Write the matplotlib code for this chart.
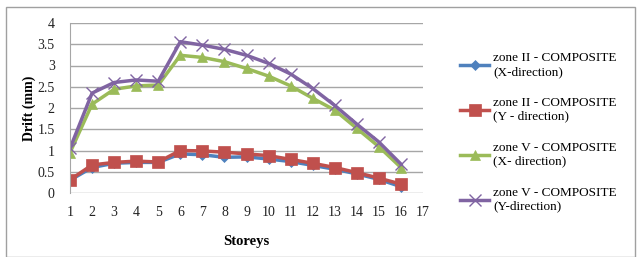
import matplotlib
matplotlib.use("Agg")
import matplotlib.pyplot as plt
from matplotlib.patches import Rectangle

storeys = list(range(1, 17))
zone2_x = [0.30, 0.60, 0.70, 0.72, 0.72, 0.92, 0.90, 0.84, 0.85, 0.80, 0.74, 0.65, 0.56, 0.45, 0.32, 0.15]
zone2_y = [0.31, 0.66, 0.72, 0.75, 0.73, 1.00, 0.99, 0.96, 0.92, 0.88, 0.79, 0.70, 0.60, 0.48, 0.35, 0.21]
zone5_x = [0.95, 2.09, 2.44, 2.52, 2.54, 3.24, 3.19, 3.09, 2.93, 2.75, 2.52, 2.23, 1.95, 1.52, 1.09, 0.60]
zone5_y = [1.05, 2.35, 2.60, 2.66, 2.63, 3.56, 3.48, 3.38, 3.24, 3.05, 2.80, 2.46, 2.06, 1.62, 1.20, 0.68]
labels = ["zone II - COMPOSITE\n(X-direction)", "zone II - COMPOSITE\n(Y - direction)",
          "zone V - COMPOSITE\n(X- direction)", "zone V - COMPOSITE\n(Y-direction)"]
xticks = list(range(1, 18))
yticks = [0, 0.5, 1, 1.5, 2, 2.5, 3, 3.5, 4]

plt.rcParams['font.family'] = ['Liberation Serif', 'DejaVu Serif']

fig = plt.figure(figsize=(6.38, 2.57), dpi=100)
fig.patches.append(Rectangle((6/638, 0.0), 0.995 - 6/638, 1 - 7/257 - 0.0,
                             transform=fig.transFigure, fill=False, edgecolor='#a0a0a0', lw=1))
ax = fig.add_axes([70/638, 64/257, 353/638, 170/257])

series = [zone2_x, zone2_y, zone5_x, zone5_y]
colors = ['#4F81BD', '#C0504D', '#9BBB59', '#8064A2']
markers = ['D', 's', '^', 'x']
msizes = [5, 8, 7, 9]
for s, c, m, ms, lab in zip(series, colors, markers, msizes, labels):
    ax.plot(storeys, s, color=c, lw=2.5, marker=m, markersize=ms, label=lab,
            markeredgewidth=1 if m == 'x' else 0.5, markeredgecolor=c)

ax.set_xlim(1, 17)
ax.set_ylim(0, 4)
ax.set_xticks(xticks)
ax.set_yticks(yticks)
ax.set_yticklabels(['0', '0.5', '1', '1.5', '2', '2.5', '3', '3.5', '4'])
ax.grid(axis='y', color='#a6a6a6', lw=1)
ax.set_axisbelow(True)
for sp in ['top', 'right', 'bottom']:
    ax.spines[sp].set_visible(False)
ax.spines['left'].set_color('#a6a6a6')
ax.tick_params(length=0, labelsize=10, colors='#222222')
ax.tick_params(axis='y', pad=11)
ax.tick_params(axis='x', pad=9)
ax.set_xlabel('Storeys', fontweight='bold', fontsize=10.5, labelpad=12)
ax.set_ylabel('Drift (mm)', fontweight='bold', fontsize=10, labelpad=1)

leg = ax.legend(loc='upper left', bbox_to_anchor=(460/638, 1 - 52/257), bbox_transform=fig.transFigure,
                frameon=False, fontsize=9.5, handlelength=2.2, handletextpad=0.3,
                labelspacing=1.45, borderaxespad=0, borderpad=0)

fig.savefig('out.png', dpi=100)
